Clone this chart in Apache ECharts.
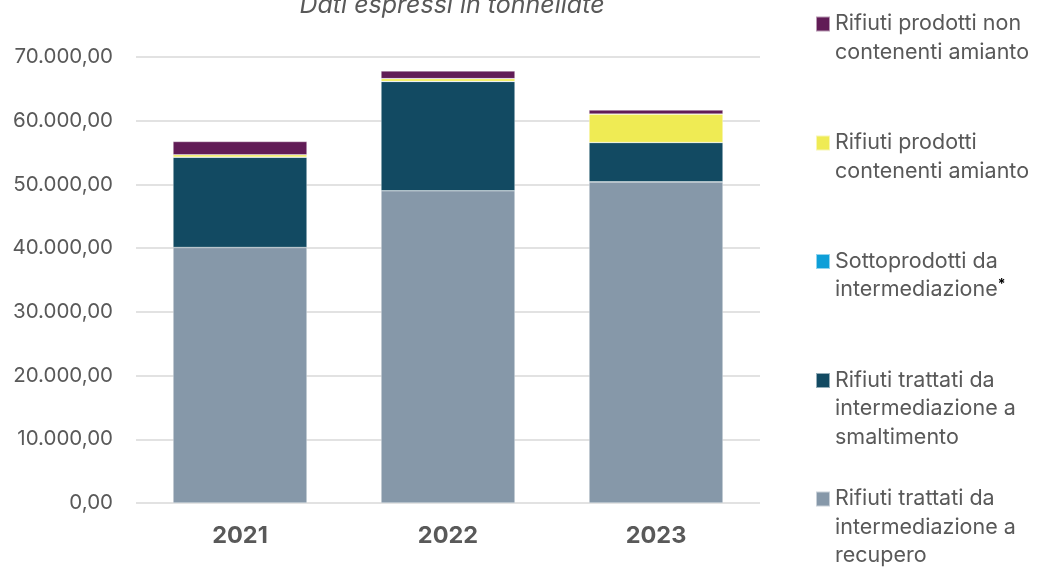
<!DOCTYPE html>
<html>
<head>
	<meta charset="UTF-8">
	<title>Rifiuti</title>
	<script src="https://cdn.jsdelivr.net/npm/echarts@6/dist/echarts.min.js"></script>
	<style>
		html, body { margin: 0; padding: 0; background: #fff; }
		#chart { width: 1039px; height: 568px; }
	</style>
</head>
<body>
	<div id="chart"></div>
<script type="text/javascript">
	// dati (tonnellate)
	var anni = ['2021', '2022', '2023'];
	var recupero = [40100, 49000, 50400];
	var smaltimento = [14180, 17170, 6180];
	var sottoprodotti = [0, 0, 0];
	var amianto = [370, 430, 4460];
	var nonAmianto = [2090, 1210, 630];
	var yTicks = [0, 10000, 20000, 30000, 40000, 50000, 60000, 70000];

	var nomi = [
		'Rifiuti prodotti non\ncontenenti amianto',
		'Rifiuti prodotti\ncontenenti amianto',
		'Sottoprodotti da\nintermediazione*',
		'Rifiuti trattati da\nintermediazione a\nsmaltimento',
		'Rifiuti trattati da\nintermediazione a\nrecupero'
	];
	var colori = ['#611c56', '#efeb54', '#0e9fd8', '#124a62', '#8698a9'];
	var valori = [nonAmianto, amianto, sottoprodotti, smaltimento, recupero];
	var iconMid = [24, 143, 261.5, 380.5, 499];

	var font = 'Inter, "Noto Sans", sans-serif';
	var lh = 28.5;

	function fmt(v) {
		var s = String(Math.round(v));
		s = s.replace(/\B(?=(\d{3})+(?!\d))/g, '.');
		return s + ',00';
	}

	var series = [];
	// dal basso verso l'alto
	for (var i = nomi.length - 1; i >= 0; i--) {
		series.push({
			name: nomi[i],
			type: 'bar',
			stack: 'tot',
			barWidth: 134,
			itemStyle: { color: colori[i], borderColor: 'rgba(255,255,255,0.55)', borderWidth: 0.6 },
			data: valori[i]
		});
	}

	// una legenda per voce: righe vuote sopra cosi' il quadratino sta sulla prima riga
	var legends = [];
	nomi.forEach(function (nome, j) {
		var righe = nome.split('\n').length;
		var vuote = new Array(righe).join('\n');
		legends.push({
			data: [nome],
			orient: 'vertical',
			left: 815,
			top: iconMid[j] - (2 * righe - 1) * lh / 2,
			padding: 0,
			itemWidth: 14,
			itemHeight: 15,
			icon: 'rect',
			selectedMode: false,
			formatter: function (n) { return vuote + n.replace('*', '{ast|*}'); },
			textStyle: {
				fontFamily: font,
				fontSize: 21.5,
				color: '#595959',
				lineHeight: lh,
				rich: {
					ast: { fontFamily: font, fontSize: 14, fontWeight: 'bold', color: '#000', lineHeight: lh, padding: [0, 0, 10, 0] }
				}
			}
		});
	});

	var myChart = echarts.init(document.getElementById('chart'));
	var option = {
		backgroundColor: '#ffffff',
		animation: false,
		title: {
			text: 'Dati espressi in tonnellate',
			left: 452,
			textAlign: 'center',
			top: -7,
			padding: 0,
			textStyle: {
				fontFamily: font,
				fontStyle: 'italic',
				fontWeight: 'normal',
				fontSize: 25,
				color: '#595959'
			}
		},
		legend: legends,
		grid: { left: 136, right: 279, top: 57, bottom: 65 },
		xAxis: {
			type: 'category',
			data: anni,
			axisLine: { show: false },
			axisTick: { show: false },
			axisLabel: {
				margin: 21,
				fontFamily: font,
				fontWeight: 'bold',
				fontSize: 23.5,
				color: '#595959'
			}
		},
		yAxis: {
			type: 'value',
			min: yTicks[0],
			max: yTicks[yTicks.length - 1],
			interval: yTicks[1] - yTicks[0],
			axisLine: { show: false },
			axisTick: { show: false },
			splitLine: { lineStyle: { color: '#d9d9d9', width: 1.5 } },
			axisLabel: {
				margin: 23,
				fontFamily: font,
				fontSize: 20.5,
				color: '#595959',
				formatter: fmt
			}
		},
		series: series
	};
	myChart.setOption(option);
</script>
</body>
</html>
